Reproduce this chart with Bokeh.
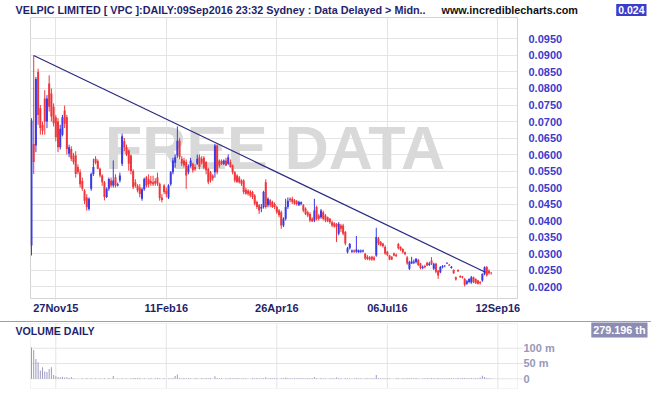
from bokeh.plotting import figure
from bokeh.models import (ColumnDataSource, FixedTicker, Label, Range1d, Spacer,
                          PrintfTickFormatter, BoxAnnotation)
from bokeh.embed import file_html
from bokeh.resources import INLINE
from bokeh.core.properties import value

# ---------------- data (prices in 1/10000 of a dollar, volume in millions) ----------------
opens = [324,632,627,850,740,690,770,700,815,785, 745,713,700,622,660,733,713,602,617,597,
         597,562,546,520,491,470,435,496,541,587, 580,557,536,516,471,496,521,506,531,506,
         521,572,640,622,612,597,550,516,505,500, 466,495,531,525,520,516,520,530,511,470,
         506,490,470,510,546,575,597,642,587,582, 577,546,565,572,562,572,592,587,590,577,
         556,546,536,546,627,582,580,572,582,572, 577,567,546,536,530,521,521,493,490,488,
         486,476,456,446,436,441,516,446,461,456, 450,441,430,425,385,405,441,466,466,461,
         458,446,450,446,436,425,420,405,400,441, 415,410,425,415,410,405,395,392,390,360,
         385,385,365,304,316,305,309,305,304,305, 306,299,290,289,290,288,294,345,335,330,
         320,305,294,290,300,296,329,320,314,304, 289,254,270,272,274,280,270,256,262,272,
         265,279,254,269,248,243,258,262,270,266, 256,250,228,250,232,230,223,208,214,212,
         228,223,218,214,218,238,259,248,242]
highs = [710,900,835,860,750,700,795,780,840,800, 755,720,710,690,720,748,720,630,625,605,
         610,570,555,530,495,480,470,545,587,595, 585,560,540,520,500,530,530,582,540,515,
         545,663,650,630,615,600,555,525,510,510, 500,530,535,540,535,536,528,545,515,480,
         510,500,510,550,590,600,685,650,595,590, 585,570,590,575,570,600,600,595,595,580,
         560,550,540,632,630,585,585,585,590,600, 585,570,550,540,535,525,525,500,495,492,
         490,480,460,450,450,490,525,470,465,460, 455,445,435,430,410,466,470,470,472,465,
         462,460,458,450,440,430,425,410,466,445, 420,435,430,420,412,408,400,395,392,395,
         390,390,368,320,332,312,312,353,312,312, 312,302,295,292,293,292,378,350,338,332,
         325,308,296,292,303,300,332,322,316,306, 292,278,290,282,286,284,272,264,266,275,
         275,289,272,272,250,262,265,265,273,268, 262,252,230,252,234,232,226,220,225,232,
         230,225,220,216,240,261,262,252,244]
lows = [294,541,607,690,660,660,660,680,730,700, 685,640,607,615,655,680,600,592,580,570,
        530,540,500,490,450,430,430,490,535,570, 555,530,505,461,468,490,500,500,500,503,
        515,565,610,595,551,540,495,500,485,470, 460,490,500,500,505,505,505,505,460,455,
        480,470,465,505,540,560,590,585,565,560, 496,540,560,545,550,568,555,570,555,540,
        510,515,520,530,540,560,568,568,565,568, 560,540,515,515,512,505,480,478,475,470,
        465,445,435,420,425,436,436,440,440,438, 435,420,410,375,380,400,435,455,450,448,
        445,444,446,425,416,410,395,395,395,400, 400,405,400,395,395,390,380,378,335,355,
        365,355,325,300,312,302,302,302,302,302, 303,280,280,279,278,278,290,325,322,318,
        296,292,280,280,292,290,312,308,300,295, 266,250,268,268,270,262,252,252,255,262,
        262,265,250,240,223,240,255,258,268,262, 254,238,218,244,226,224,200,205,210,208,
        210,208,206,206,214,234,230,236,236]
closes = [703,577,829,720,680,672,700,770,745,715, 695,652,622,678,713,693,617,622,587,577,
          541,546,510,496,460,440,466,541,562,575, 557,536,516,471,496,526,506,521,506,510,
          536,655,622,600,572,550,501,505,491,480, 495,526,506,510,512,510,512,511,468,462,
          486,480,506,546,582,592,642,592,572,567, 536,565,582,552,555,587,562,575,560,552,
          516,521,527,627,546,567,572,582,567,592, 562,546,521,516,516,511,486,481,481,476,
          471,451,441,430,441,486,441,466,446,441, 441,425,416,385,405,441,460,461,456,451,
          450,456,455,430,420,415,400,398,430,405, 405,430,405,400,398,395,385,382,380,390,
          375,360,330,316,329,309,305,312,310,309, 309,285,283,282,282,281,350,330,325,322,
          300,296,282,282,294,292,316,312,304,298, 270,274,276,276,284,265,256,260,258,264,
          270,269,269,245,233,259,261,263,272,264, 260,240,221,246,228,227,205,216,223,228,
          214,210,208,210,238,258,234,240,240]
volumes = [102,94,65,54,27,38,24,22,32,38, 12,8,6,5,7,4,5,3,6,2,
           0,0,0,2,0,3,0,2,0,2, 0,2,0,2,0,3,0,9,0,2,
           0,2,0,2,0,2,3,3,3,3, 0,3,0,2,3,0,2,3,2,0,
           3,0,2,2,3,9,14,3,2,3, 2,3,2,0,3,2,0,3,2,3,
           2,3,0,8,3,2,3,0,2,2, 3,2,2,3,2,2,2,2,0,0,
           3,2,3,2,2,3,5,2,3,2, 3,2,0,3,2,4,3,2,2,3,
           2,3,2,2,2,3,2,2,6,3, 0,3,2,2,0,2,2,2,4,3,
           2,0,3,2,2,0,2,3,2,2, 0,2,2,2,2,2,12,3,2,2,
           2,2,2,0,0,2,3,0,2,2, 2,3,2,2,3,2,0,2,2,3,
           2,3,2,2,3,2,2,2,2,3, 2,2,2,3,2,3,3,2,3,3,
           2,3,2,4,10,6,3,2,2]
tick_bars = [11, 61, 111, 161, 211]
tick_labels = ["27Nov15", "11Feb16", "26Apr16", "06Jul16", "12Sep16"]
price_ticks = [0.020, 0.025, 0.030, 0.035, 0.040, 0.045, 0.050, 0.055, 0.060,
               0.065, 0.070, 0.075, 0.080, 0.085, 0.090, 0.095]
volume_ticks = [0, 50, 100]
volume_tick_labels = ["0", "50 m", "100 m"]
trend_bars = [1, 205.4]
trend_prices = [0.0900, 0.0243]
title_text = "VELPIC LIMITED [ VPC ]:DAILY:09Sep2016 23:32 Sydney : Data Delayed > Midn.."
site_text = "www.incrediblecharts.com"
last_price = "0.024"
last_volume = "279.196 th"

# ---------------- styles ----------------
RED = "#f0363a"
BLUE = "#3a3ae6"
GRID = "#e4e4e4"
OUTLINE = "#d4d4d4"
NAVY = "#1f1f6b"
SANS = "Liberation Sans"
W = 651
PX_PER_BAR = 487 / 220.35

n = len(closes)
idx = list(range(n))
o = [v / 10000 for v in opens]
h = [v / 10000 for v in highs]
l = [v / 10000 for v in lows]
c = [v / 10000 for v in closes]
src = ColumnDataSource(dict(
    x=idx, high=h, low=l,
    top=[max(a, b) for a, b in zip(o, c)],
    bottom=[min(a, b) for a, b in zip(o, c)],
    color=[BLUE if cc >= oo else RED for oo, cc in zip(o, c)],
))


def bare(fig):
    fig.xgrid.visible = False
    fig.ygrid.visible = False
    fig.outline_line_color = None
    fig.background_fill_color = "white"
    fig.border_fill_color = "white"


# ---------------- header bar ----------------
hdr = figure(width=W, height=17, output_backend="svg", toolbar_location=None,
             x_range=Range1d(0, W), y_range=Range1d(0, 17),
             x_axis_location=None, y_axis_location=None,
             min_border_left=0, min_border_right=0, min_border_top=0, min_border_bottom=0)
bare(hdr)
hdr.add_layout(Label(x=15, y=7.5, x_units="screen", y_units="screen", text=title_text,
                     text_font=SANS, text_font_style="bold", text_font_size="10.8px",
                     text_color=NAVY, text_baseline="middle"))
hdr.add_layout(Label(x=441, y=7.5, x_units="screen", y_units="screen", text=site_text,
                     text_font=SANS, text_font_style="bold", text_font_size="10.8px",
                     text_color="#111111", text_baseline="middle"))
hdr.add_layout(Label(x=646, y=7.5, x_units="screen", y_units="screen", text=last_price,
                     text_font=SANS, text_font_style="bold", text_font_size="10.5px",
                     text_color="white", text_baseline="middle", text_align="right",
                     background_fill_color="#3c3ccc", padding=2))

# ---------------- price panel ----------------
x_range = Range1d(-0.45, 219.9)
p = figure(width=W, height=304, output_backend="svg", toolbar_location=None,
           x_range=x_range, y_range=Range1d(0.016364, 0.101515),
           y_axis_location="right", min_border_left=30, min_border_right=134,
           min_border_top=0, min_border_bottom=23)
p.background_fill_color = "white"
p.border_fill_color = "white"
p.outline_line_color = OUTLINE

p.xaxis.ticker = FixedTicker(ticks=tick_bars)
p.xaxis.major_label_overrides = {t: s for t, s in zip(tick_bars, tick_labels)}
p.xaxis.axis_line_color = None
p.xaxis.major_tick_line_color = GRID
p.xaxis.major_tick_out = 2
p.xaxis.major_tick_in = 0
p.xaxis.minor_tick_line_color = None
p.xaxis.major_label_standoff = 1
p.xaxis.major_label_text_font = SANS
p.xaxis.major_label_text_font_style = "bold"
p.xaxis.major_label_text_font_size = "11px"
p.xaxis.major_label_text_color = NAVY

p.yaxis.ticker = FixedTicker(ticks=price_ticks)
p.yaxis.formatter = PrintfTickFormatter(format="%.4f")
p.yaxis.axis_line_color = None
p.yaxis.major_tick_line_color = None
p.yaxis.minor_tick_line_color = None
p.yaxis.major_label_standoff = 5
p.yaxis.major_label_text_font = SANS
p.yaxis.major_label_text_font_style = "bold"
p.yaxis.major_label_text_font_size = "11px"
p.yaxis.major_label_text_color = "#3b3bcc"

p.xgrid.ticker = FixedTicker(ticks=tick_bars)
p.ygrid.ticker = FixedTicker(ticks=price_ticks)
p.xgrid.grid_line_color = GRID
p.ygrid.grid_line_color = GRID

# watermark behind the candles
p.text(x=[(x_range.start + x_range.end) / 2 + 0.5], y=[0.0621], text=["FREE DATA"],
       text_font=value(SANS), text_font_style="bold", text_font_size="61px",
       text_color="#d9d9d9", text_align="center", text_baseline="middle")

p.segment(x0="x", y0="low", x1="x", y1="high", line_color="color", line_width=1, source=src)
p.vbar(x="x", width=0.9, top="top", bottom="bottom", fill_color="color",
       line_color=None, source=src)
p.line(trend_bars, trend_prices, line_color="#2a2a80", line_width=1.2)

sep = Spacer(width=W, height=1, styles={"background-color": "#a0a0a0"})

# ---------------- volume panel (frame covers the whole strip) ----------------
vx0 = x_range.start - 30 / PX_PER_BAR
vx1 = x_range.end + (W - 517) / PX_PER_BAR
v = figure(width=W, height=73, output_backend="svg", toolbar_location=None,
           x_range=Range1d(vx0, vx1), y_range=Range1d(-54.6, 184.0),
           x_axis_location=None, y_axis_location=None,
           min_border_left=0, min_border_right=0, min_border_top=0, min_border_bottom=0)
bare(v)
box_top, box_bottom = 180.7, -31.4
v.add_layout(BoxAnnotation(left=x_range.start, right=x_range.end, top=box_top,
                           bottom=box_bottom, fill_alpha=0, line_color=OUTLINE, line_width=1))
v.segment(x0=tick_bars, y0=[box_bottom] * len(tick_bars), x1=tick_bars,
          y1=[box_top] * len(tick_bars), line_color=GRID, line_width=1)
v.segment(x0=[x_range.start] * len(volume_ticks), y0=volume_ticks,
          x1=[x_range.end + 6 / PX_PER_BAR] * len(volume_ticks), y1=volume_ticks,
          line_color=GRID, line_width=1)
v.text(x=[x_range.end + 6 / PX_PER_BAR] * len(volume_ticks), y=volume_ticks,
       text=volume_tick_labels, text_font=value(SANS), text_font_style="bold",
       text_font_size="11px", text_color="#9898b8", text_align="left",
       text_baseline="middle")

v.vbar(x=idx, width=0.45, top=volumes, bottom=0, fill_color="#9a9abf", line_color=None)

v.add_layout(Label(x=15, y=64.5, x_units="screen", y_units="screen", text="VOLUME DAILY",
                   text_font=SANS, text_font_style="bold", text_font_size="10.6px",
                   text_color=NAVY, text_baseline="middle"))
v.add_layout(Label(x=647, y=66, x_units="screen", y_units="screen", text=last_volume,
                   text_font=SANS, text_font_style="bold", text_font_size="10.8px",
                   text_color="white", text_baseline="middle", text_align="right",
                   background_fill_color="#8c8cb4", padding=2))

open("out.html", "w").write(file_html([hdr, p, sep, v], INLINE))
